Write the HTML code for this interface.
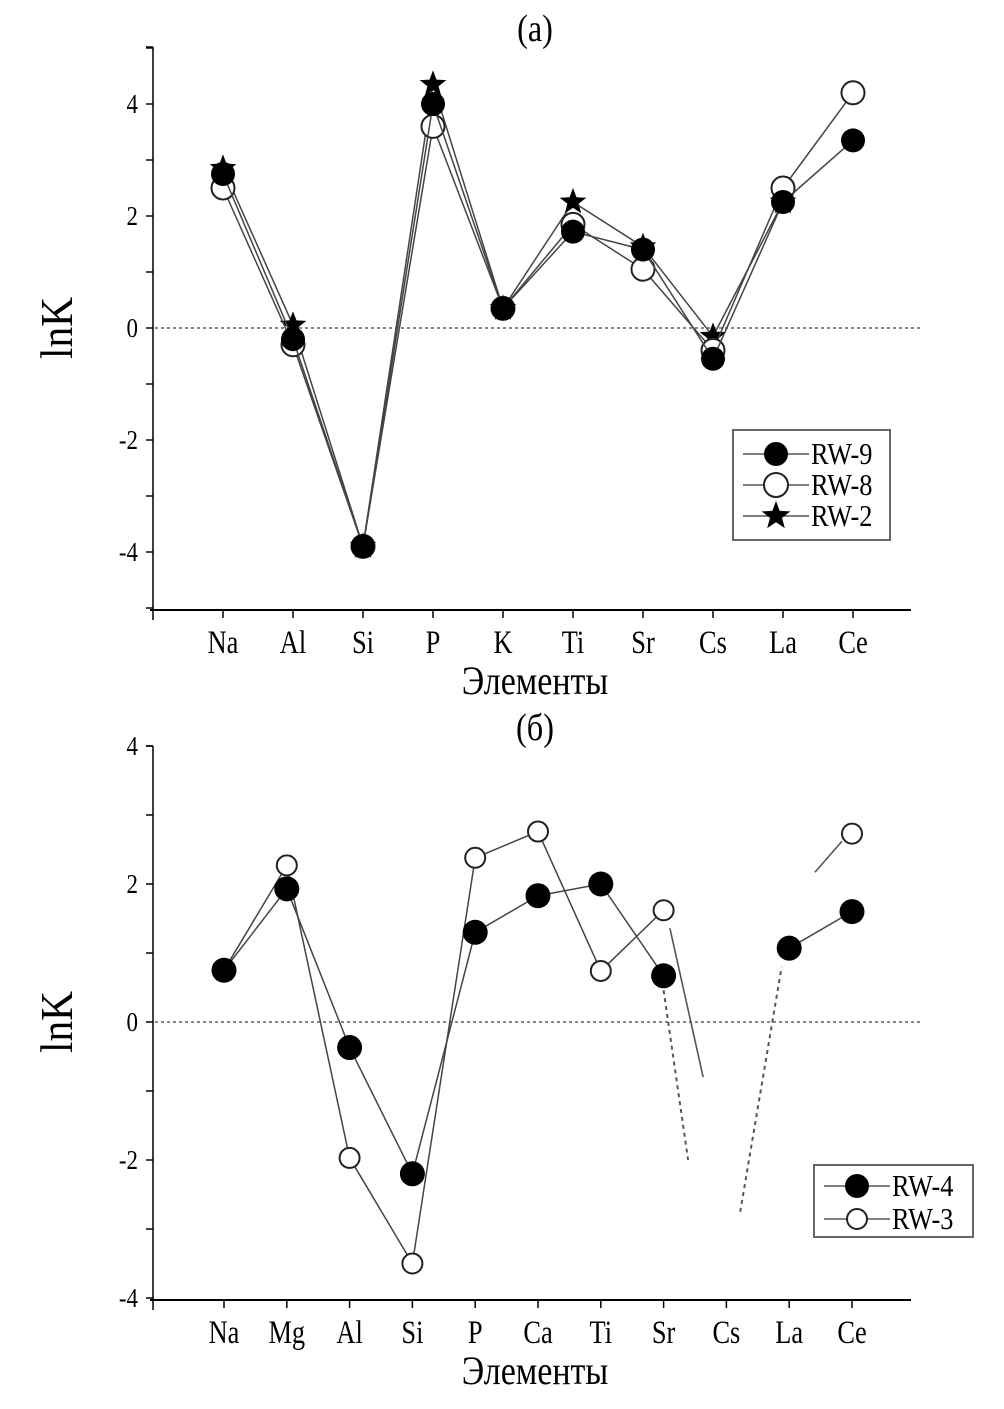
<!DOCTYPE html>
<html><head><meta charset="utf-8"><style>
body{margin:0;background:#fff}
svg{display:block}
text{font-family:"Liberation Serif",serif;fill:#000}
</style></head><body>
<svg id="c" width="1004" height="1409" viewBox="0 0 1004 1409"></svg>
<script>
const catsA=["Na","Al","Si","P","K","Ti","Sr","Cs","La","Ce"];
const rw9=[2.75,-0.2,-3.9,4.0,0.35,1.72,1.4,-0.55,2.25,3.35];
const rw8=[2.5,-0.3,-3.9,3.6,0.35,1.85,1.05,-0.4,2.5,4.2];
const rw2=[2.85,0.05,-3.9,4.35,0.35,2.25,1.45,-0.15,2.25,null];
const ticksA=[-4,-2,0,2,4];
const catsB=["Na","Mg","Al","Si","P","Ca","Ti","Sr","Cs","La","Ce"];
const rw4=[0.75,1.93,-0.37,-2.2,1.3,1.83,2.0,0.67,null,1.07,1.6];
const rw3=[0.75,2.27,-1.97,-3.5,2.38,2.76,0.74,1.62,null,null,2.73];
const ticksB=[-4,-2,0,2,4];
// broken fragments toward off-scale Cs: [i0,v0,i1,v1]
const rw4Frag=[[7.0,0.46,7.39,-2.0],[8.22,-2.75,8.88,0.8]];
const rw3Frag=[[7.1,1.36,7.63,-0.8],[9.41,2.17,9.84,2.62]];

const svg=document.getElementById('c');const NS="http://www.w3.org/2000/svg";
function mk(t,a,p){const e=document.createElementNS(NS,t);for(const k in a)e.setAttribute(k,a[k]);(p||svg).appendChild(e);return e;}
function ctext(p,x,y,s,size,anchor,sx){
  const t=mk('text',{x:0,y:0,'text-anchor':anchor,'font-size':size,transform:`translate(${x},${y}) scale(${sx},1)`},p);
  t.textContent=s;return t;
}

function panel(o){
  const g=mk('g',{});
  
  
  const y=v=>o.y0-v*o.py, x=i=>o.x0+i*o.px;
  const ax=mk('line',{x1:153,y1:o.top,x2:153,y2:o.bot,stroke:'#000','stroke-width':1.5},g);
  
  const bx=mk('line',{x1:150,y1:o.bot,x2:911,y2:o.bot,stroke:'#000','stroke-width':2},g);
  
  mk('line',{x1:153,y1:o.bot,x2:153,y2:o.bot+10,stroke:'#000','stroke-width':1.5},g);
  mk('line',{x1:146,y1:o.top,x2:153,y2:o.top,stroke:'#000','stroke-width':1.5},g);
  for(let v=o.min;v<=o.max;v++){mk('line',{x1:146,y1:y(v),x2:153,y2:y(v),stroke:'#000','stroke-width':1.5},g);}
  o.ticks.forEach(v=>{const t=ctext(g,138,y(v)+9,String(v),27,'end',0.85);
    });
  o.cats.forEach((c,i)=>{mk('line',{x1:x(i),y1:o.bot,x2:x(i),y2:o.bot+8,stroke:'#000','stroke-width':1.5},g);
    const t=ctext(g,x(i),o.bot+43,c,33,'middle',0.8);
    });
  const xt=ctext(g,535,o.bot+84,'Элементы',40,'middle',0.85);
  
  const yt=mk('text',{x:0,y:0,'text-anchor':'middle','font-size':46,transform:`translate(72,${y(0)}) rotate(-90) scale(0.9,1)`},g);yt.textContent='lnK';
  
  const tt=ctext(g,535,o.top-6,o.title,38,'middle',0.85);
  
  const z=mk('line',{x1:155,y1:y(0),x2:920,y2:y(0),stroke:'#888','stroke-width':2,'stroke-dasharray':'3,3'},g);
  
  o.series.forEach(s=>{
    const sg=mk('g',{},g);
    
    for(let i=0;i<s.d.length-1;i++){if(s.d[i]==null||s.d[i+1]==null)continue;
      mk('line',{x1:x(i),y1:y(s.d[i]),x2:x(i+1),y2:y(s.d[i+1]),stroke:'#444','stroke-width':1.5},sg);}
    (s.frag||[]).forEach(f=>{mk('line',{x1:x(f[0]),y1:y(f[1]),x2:x(f[2]),y2:y(f[3]),stroke:'#555','stroke-width':s.dash?2:1.6,'stroke-dasharray':s.dash?'4,4':'none'},sg);});
    s.d.forEach((v,i)=>{if(v==null)return;const m=marker(sg,s.type,x(i),y(v),s.r);
      });
  });
  return {g,y,x};
}
function star(cx,cy,R){let p=[];for(let k=0;k<10;k++){const r=k%2?R*0.42:R;const a=-Math.PI/2+k*Math.PI/5;p.push((cx+r*Math.cos(a)).toFixed(1)+','+(cy+r*Math.sin(a)).toFixed(1));}return p.join(' ');}
function marker(p,type,cx,cy,r){
  if(type==='fill')return mk('circle',{cx,cy,r,fill:'#000'},p);
  if(type==='open')return mk('circle',{cx,cy,r,fill:'#fff',stroke:'#222','stroke-width':2},p);
  return mk('polygon',{points:star(cx,cy,r),fill:'#000'},p);
}
panel({name:'panel-a',title:'(a)',top:47,bot:610,y0:328,py:56,x0:223,px:70,min:-5,max:5,ticks:ticksA,cats:catsA,
  series:[{key:'rw2',d:rw2,type:'star',r:14},{key:'rw8',d:rw8,type:'open',r:11.5},{key:'rw9',d:rw9,type:'fill',r:12}]});
panel({name:'panel-b',title:'(б)',top:746,bot:1300,y0:1022,py:69,x0:224,px:62.8,min:-4,max:4,ticks:ticksB,cats:catsB,
  series:[{key:'rw3',d:rw3,type:'open',r:10,frag:rw3Frag},{key:'rw4',d:rw4,type:'fill',r:12.5,frag:rw4Frag,dash:true}]});
function legend(name,x0,y0,w,h,items){
  const g=mk('g',{});
  mk('rect',{x:x0,y:y0,width:w,height:h,fill:'#fff',stroke:'#666','stroke-width':2},g);
  items.forEach((it,k)=>{const cy=y0+it.dy+k*it.step;
    const e=mk('g',{},g);
    mk('line',{x1:x0+10,y1:cy,x2:x0+76,y2:cy,stroke:'#555','stroke-width':1.5},e);
    marker(e,it.type,x0+43,cy,it.r);
    ctext(e,x0+78,cy+10,it.label,31,'start',0.85);});
}
legend('legend-a',733,430,157,110,[{label:'RW-9',type:'fill',r:12,dy:24,step:31},{label:'RW-8',type:'open',r:12,dy:24,step:31},{label:'RW-2',type:'star',r:15,dy:24,step:31}]);
legend('legend-b',814,1165,159,72,[{label:'RW-4',type:'fill',r:12,dy:21,step:33},{label:'RW-3',type:'open',r:10,dy:21,step:33}]);
</script>
</body></html>
